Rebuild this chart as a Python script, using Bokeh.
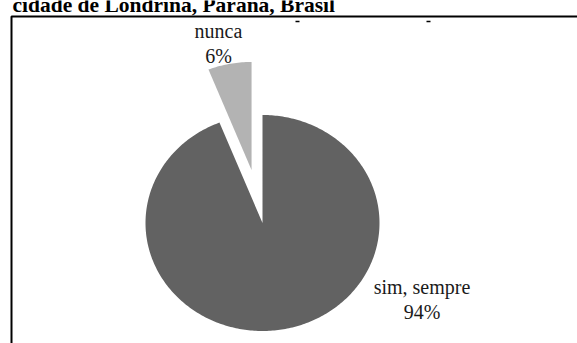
import numpy as np
from bokeh.plotting import figure
from bokeh.models import Range1d
from bokeh.core.properties import value
from bokeh.embed import file_html
from bokeh.resources import INLINE

# Survey answers and their shares (%)
categories = ["sim, sempre", "nunca"]
percents = [94, 6]
slice_colors = ["#626262", "#b3b3b3"]
explode = [0.0, 0.5]
header_text = "cidade de Londrina, Paraná, Brasil"

# Canvas and pie geometry (pixel space, y grows downward)
W, H = 577, 343
CX, CY = 262.0, 222.5
RX, RY = 117.0, 108.0
FONT = "Liberation Serif"

p = figure(width=W, height=H, x_range=Range1d(0, W), y_range=Range1d(H, 0),
           output_backend="svg", toolbar_location=None, min_border=0,
           x_axis_type=None, y_axis_type=None)
p.grid.visible = False
p.outline_line_color = None
p.background_fill_color = "white"
p.border_fill_color = "white"


def point(t, scale, ox=0.0, oy=0.0):
    """Point on the pie rim; t is the angle clockwise from 12 o'clock."""
    return ox + CX + np.sin(t) * RX * scale, oy + CY - np.cos(t) * RY * scale


total = float(sum(percents))
start = 0.0
xs, ys = [], []
for pct, ex in zip(percents, explode):
    frac = pct / total
    t0, t1 = start * 2 * np.pi, (start + frac) * 2 * np.pi
    mid = 0.5 * (t0 + t1)
    ox, oy = np.sin(mid) * RX * ex, -np.cos(mid) * RY * ex
    ts = np.linspace(t0, t1, max(8, int(frac * 400)))
    ax, ay = point(ts, 1.0, ox, oy)
    xs.append(np.concatenate([[CX + ox], ax]).tolist())
    ys.append(np.concatenate([[CY + oy], ay]).tolist())
    start += frac

p.patches(xs, ys, fill_color=slice_colors, line_color=None)

# Slice labels: name over percentage
label_pos = {"sim, sempre": (421.5, 299.0), "nunca": (218.0, 43.0)}
lx = [label_pos[c][0] for c in categories]
ly = [label_pos[c][1] for c in categories]
ltxt = [f"{c}\n{v}%" for c, v in zip(categories, percents)]
p.text(lx, ly, text=ltxt, text_font=value(FONT), text_font_size="20px",
       text_align="center", text_baseline="middle", text_line_height=1.1,
       text_color="#1a1a1a")

# Frame of the chart area: top and left rules
p.line([11, 11, W], [H, 16, 16], line_color="black", line_width=2)

# Header line, its top clipped by the page edge
p.text([12], [4], text=[header_text], text_font=value(FONT),
       text_font_size="21.5px", text_font_style="bold",
       text_align="left", text_baseline="middle", text_color="black")

# Small marks left under the rule
p.segment([295, 426], [21, 21], [299, 430], [21, 21], line_color="black", line_width=1.5)

open("out.html", "w").write(file_html(p, INLINE))
